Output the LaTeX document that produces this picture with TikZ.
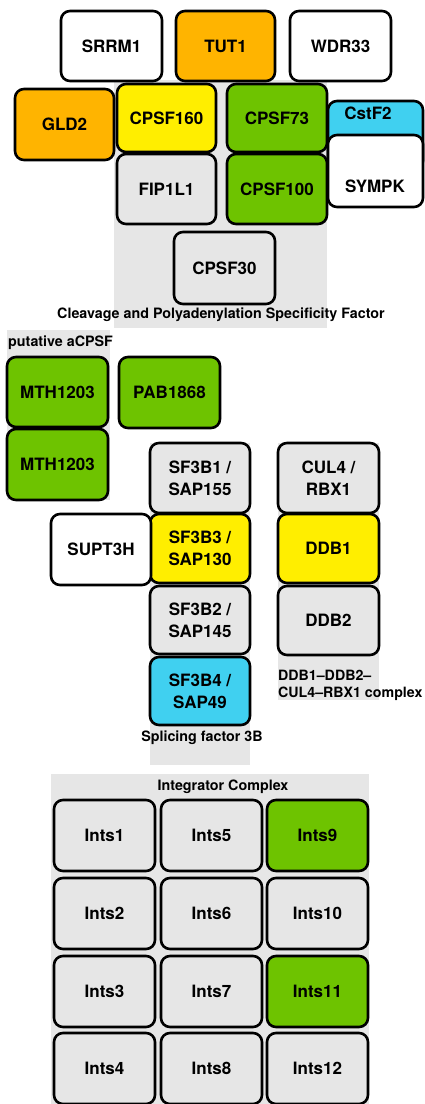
\documentclass[tikz,border=0pt]{standalone}
\usepackage{fontspec}
\setmainfont{TeX Gyre Heros}
\definecolor{cOrange}{HTML}{FFB400}
\definecolor{cYellow}{HTML}{FFEE00}
\definecolor{cGreen}{HTML}{6EC300}
\definecolor{cCyan}{HTML}{40D0F0}
\definecolor{cGrey}{HTML}{E6E6E6}
\newcommand{\mybox}[7]{\node[box,fill=#6,minimum width={#4-#2},minimum height={#5-#3}] (#1) at ({(#2+#4)/2},{(#3+#5)/2}) {#7};}
\newcommand{\mybg}[5]{\node[bgbox,minimum width={#4-#2},minimum height={#5-#3}] (#1) at ({(#2+#4)/2},{(#3+#5)/2}) {};}
\begin{document}
\begin{tikzpicture}[x=1pt,y=-1pt,
  box/.style={draw=black,line width=2.6pt,rounded corners=9pt,inner sep=0pt,align=center,
    font=\fontsize{17}{22}\selectfont\bfseries},
  bgbox/.style={fill=cGrey,draw=none,inner sep=0pt},
  lbl/.style={inner sep=0pt,font=\fontsize{14.3}{16}\selectfont\bfseries},
  boxtxt/.style={inner sep=0pt,font=\fontsize{17}{22}\selectfont\bfseries}]
\useasboundingbox (0,0) rectangle (424,1104);
\fill[white] (0,0) rectangle (424,1104);
% backgrounds
\mybg{bgcpsf}{114}{80}{327}{328}
\mybg{bgacpsf}{7}{330}{110}{500}
\mybg{bgsf}{150}{443}{250}{765}
\mybg{bgddb}{278}{443}{379}{700}
\mybg{bgint}{51}{774}{369}{1110}
% CPSF
\mybox{srrm}{61}{11}{162}{81}{white}{SRRM1}
\mybox{tut}{176}{11}{275}{81}{cOrange}{TUT1}
\mybox{wdr}{290}{11}{391}{81}{white}{WDR33}
\mybox{gld}{15}{89}{114}{160}{cOrange}{GLD2}
\mybox{c160}{117}{84}{216}{152}{cYellow}{CPSF160}
\mybox{c73}{227}{84}{327}{152}{cGreen}{CPSF73}
\mybox{cstf}{328}{101}{423}{170}{cCyan}{}
\node[boxtxt] (cstft) at (368,113) {CstF2};
\mybox{sympk}{328}{135}{423}{207}{white}{}
\node[boxtxt] (sympkt) at (375,186) {SYMPK};
\mybox{fip}{117}{154}{216}{224}{cGrey}{FIP1L1}
\mybox{c100}{227}{154}{327}{224}{cGreen}{CPSF100}
\mybox{c30}{174}{232}{275}{304}{cGrey}{CPSF30}
\node[lbl] (lcpsf) at (221,315) {Cleavage and Polyadenylation Specificity Factor};
% aCPSF
\node[lbl,anchor=west] (lacpsf) at (8,343) {putative aCPSF};
\mybox{mth1}{7}{357}{108}{427}{cGreen}{MTH1203}
\mybox{pab}{119}{357}{220}{428}{cGreen}{PAB1868}
\mybox{mth2}{7}{429}{108}{500}{cGreen}{MTH1203}
% SF3B
\mybox{sf1}{150}{443}{250}{513}{cGrey}{SF3B1 /\\SAP155}
\mybox{sf3}{150}{514}{250}{583}{cYellow}{SF3B3 /\\SAP130}
\mybox{supt}{51}{514}{151}{585}{white}{SUPT3H}
\mybox{sf2}{150}{586}{250}{654}{cGrey}{SF3B2 /\\SAP145}
\mybox{sf4}{150}{657}{250}{725}{cCyan}{SF3B4 /\\SAP49}
\node[lbl] (lsf) at (202,738) {Splicing factor 3B};
% DDB
\node[lbl,anchor=north west,align=left,font=\fontsize{14.2}{16.5}\selectfont\bfseries] (lddb) at (278,670) {DDB1–DDB2–\\CUL4–RBX1 complex};
\mybox{cul}{278}{443}{379}{513}{cGrey}{CUL4 /\\RBX1}
\mybox{ddb1}{278}{514}{379}{583}{cYellow}{DDB1}
\mybox{ddb2}{278}{586}{379}{655}{cGrey}{DDB2}
% Integrator
\node[lbl] (lint) at (223,787) {Integrator Complex};
\mybox{i1}{54}{800}{155}{871}{cGrey}{Ints1}
\mybox{i5}{161}{800}{262}{871}{cGrey}{Ints5}
\mybox{i9}{267}{800}{368}{871}{cGreen}{Ints9}
\mybox{i2}{54}{878}{155}{949}{cGrey}{Ints2}
\mybox{i6}{161}{878}{262}{949}{cGrey}{Ints6}
\mybox{i10}{267}{878}{368}{949}{cGrey}{Ints10}
\mybox{i3}{54}{956}{155}{1027}{cGrey}{Ints3}
\mybox{i7}{161}{956}{262}{1027}{cGrey}{Ints7}
\mybox{i11}{267}{956}{368}{1027}{cGreen}{Ints11}
\mybox{i4}{54}{1033}{155}{1104}{cGrey}{Ints4}
\mybox{i8}{161}{1033}{262}{1104}{cGrey}{Ints8}
\mybox{i12}{267}{1033}{368}{1104}{cGrey}{Ints12}
\end{tikzpicture}
\end{document}
